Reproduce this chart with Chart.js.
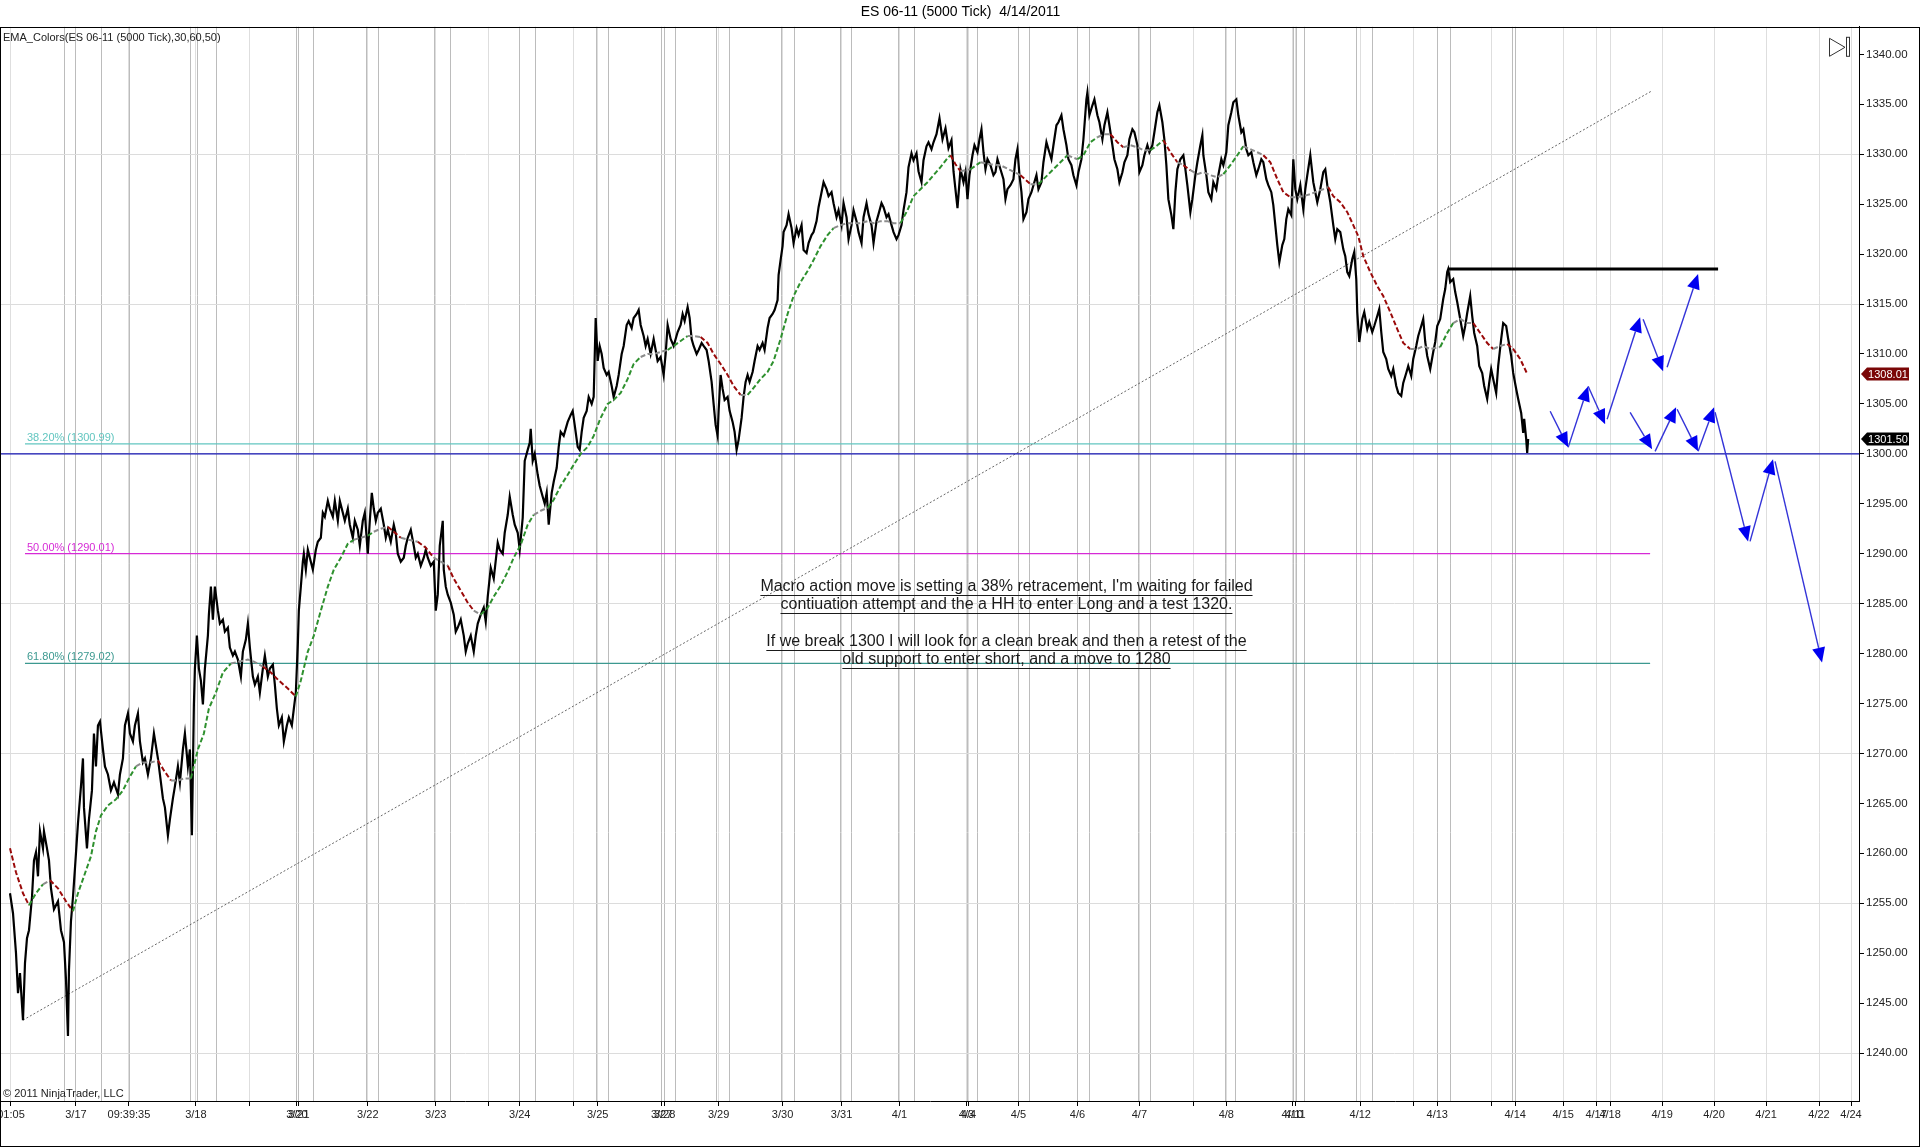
<!DOCTYPE html>
<html>
<head>
<meta charset="utf-8">
<title>ES 06-11 (5000 Tick) 4/14/2011</title>
<script src="https://cdn.jsdelivr.net/npm/chart.js@4.4.0/dist/chart.umd.min.js"></script>
<style>
  html, body { margin: 0; padding: 0; background: #fff; }
  #wrap { width: 1920px; height: 1147px; }
</style>
</head>
<body>
<div id="wrap"><canvas id="esChart" width="1920" height="1147"></canvas></div>
<script>
// ES 06-11, 5000 tick bars (x = bar number on the tick axis)
const titleText = 'ES 06-11 (5000 Tick)  4/14/2011';
const indicatorText = 'EMA_Colors(ES 06-11 (5000 Tick),30,60,50)';
const copyrightText = '\u00a9 2011 NinjaTrader, LLC';

const lastBar = 1859;
const priceMin = 1235.2;
const priceMax = 1342.76;

const tickBars = [10, 75, 128, 195, 249, 296, 298, 367, 435, 488, 519, 573, 597, 661, 664, 718, 782, 841, 899,
  966, 968, 1018, 1077, 1139, 1193, 1226, 1292, 1295, 1360, 1413, 1437, 1491, 1515, 1563, 1596, 1610, 1662,
  1714, 1766, 1819, 1851];
const tickLabels = ['01:05', '3/17', '09:39:35', '3/18', '', '3/20', '3/21', '3/22', '3/23', '', '3/24', '', '3/25',
  '3/27', '3/28', '3/29', '3/30', '3/31', '4/1', '4/3', '4/4', '4/5', '4/6', '4/7', '', '4/8', '4/10', '4/11',
  '4/12', '', '4/13', '', '4/14', '4/15', '4/17', '4/18', '4/19', '4/20', '4/21', '4/22', '4/24'];
const sessionBars = [64, 75, 101, 129, 190, 197, 216, 296, 298, 313, 366, 378, 434, 450, 519, 535, 596, 608,
  661, 664, 675, 716, 729, 781, 794, 840, 851, 898, 914, 967, 977, 1018, 1029, 1077, 1089, 1138, 1150, 1225,
  1235, 1293, 1296, 1304, 1356, 1372, 1437, 1450, 1512, 1515];

const yTicks = [1240, 1245, 1250, 1255, 1260, 1265, 1270, 1275, 1280, 1285, 1290, 1295, 1300, 1305, 1310,
  1315, 1320, 1325, 1330, 1335, 1340];
const yGridValues = [1240, 1255, 1270, 1285, 1300, 1315, 1330];

const priceBars = [
  9, 12, 15, 17, 19, 22, 24, 26, 28, 31, 33, 35, 37, 39, 42, 43, 46, 48, 50, 53,
  57, 60, 63, 65, 67, 68, 70, 72, 74, 77, 80, 82, 83, 86, 88, 91, 93, 95, 97, 99,
  102, 104, 107, 110, 113, 117, 119, 122, 124, 127, 129, 132, 134, 137, 139, 142, 144, 147, 150, 153,
  157, 159, 162, 164, 167, 169, 172, 174, 177, 179, 182, 184, 187, 189, 191, 193, 194, 196, 198, 200,
  202, 204, 207, 208, 210, 212, 214, 217, 219, 222, 224, 227, 229, 232, 234, 237, 240, 242, 245, 247,
  249, 252, 254, 257, 259, 262, 264, 267, 269, 272, 274, 276, 278, 281, 283, 286, 288, 291, 293, 295,
  297, 298, 300, 302, 303, 305, 307, 310, 312, 315, 317, 320, 322, 324, 327, 329, 332, 334, 337, 339,
  342, 344, 347, 349, 352, 354, 357, 359, 362, 364, 367, 369, 371, 373, 375, 377, 380, 383, 385, 387,
  390, 393, 395, 397, 400, 403, 405, 407, 410, 413, 415, 417, 420, 423, 425, 427, 430, 433, 435, 437,
  439, 442, 443, 445, 447, 450, 453, 455, 457, 460, 463, 465, 467, 470, 473, 475, 477, 480,
  483, 485, 487, 490, 493, 495, 497, 499, 502, 504, 507, 509, 512, 514, 517, 519, 522, 524, 527, 529,
  530, 532, 534, 537, 539, 542, 544, 546, 548, 551, 553, 556, 558, 560, 563, 565, 567, 570, 572, 574,
  577, 579, 581, 583, 586, 588, 591, 593, 595, 597, 599, 601, 603, 606, 608, 611, 613, 616, 618, 621,
  623, 626, 628, 631, 633, 636, 638, 640, 643, 645, 647, 650, 653, 655, 657, 660, 663, 665, 667, 670,
  673, 675, 677, 680, 682, 684, 687, 689, 691, 693, 696, 698, 701, 703, 706, 708, 711, 713, 715, 717,
  718, 720, 722, 724, 727, 729, 732, 734, 736, 738, 741, 743, 745, 747, 749, 752, 754, 757, 759, 762,
  764, 767, 769, 772, 774, 777, 778, 780, 782, 783, 786, 788, 791, 793, 796, 798, 801, 803, 806, 808,
  811, 813, 816, 818, 821, 823, 826, 828, 831, 833, 836, 838, 841, 843, 846, 848, 851, 853, 856, 858,
  861, 863, 866, 868, 871, 873, 876, 878, 881, 883, 886, 888, 891, 893, 896, 898, 901, 903, 906, 908,
  911, 913, 916, 918, 921, 923, 926, 928, 931, 933,
  936, 939, 942, 945, 948, 951, 953, 957,
  960, 963, 965, 967, 969, 972, 974, 977, 979, 981, 983, 985, 987, 990, 993, 995, 997, 1000, 1003, 1005,
  1007, 1010, 1013, 1015, 1017, 1019, 1021, 1023, 1026, 1028, 1031, 1033, 1036, 1038, 1041, 1043, 1046, 1048, 1051, 1053,
  1056, 1058, 1061, 1063, 1066, 1068, 1071, 1073, 1076, 1078, 1081, 1083, 1086, 1087, 1089, 1092, 1094, 1097, 1099, 1102,
  1104, 1107, 1109, 1112, 1114, 1117, 1119, 1122, 1124, 1127, 1129, 1132, 1134, 1137, 1139, 1142, 1144, 1147, 1149, 1152,
  1154, 1157, 1159, 1162, 1164, 1166, 1168, 1171, 1173, 1175, 1177, 1180, 1183, 1185, 1187, 1190, 1192, 1195, 1197, 1200,
  1202, 1203, 1206, 1208, 1211, 1213, 1216, 1218, 1221, 1223, 1226, 1228, 1231, 1233, 1236, 1238, 1241, 1243, 1246, 1248,
  1251, 1253, 1256, 1258, 1261, 1263, 1266, 1268, 1271, 1273, 1275, 1277, 1279, 1282, 1284, 1286, 1288, 1291, 1293, 1295,
  1297, 1300, 1303, 1305, 1307, 1310, 1313, 1315, 1317, 1320, 1323, 1325, 1327, 1330, 1333, 1335, 1337, 1340, 1343, 1345,
  1347, 1349, 1352, 1354, 1356, 1357, 1359, 1362, 1364, 1367, 1369, 1372, 1374, 1377, 1379, 1381, 1383, 1386, 1388, 1391,
  1393, 1396, 1398, 1401, 1403, 1406, 1408, 1411, 1413, 1416, 1418, 1421, 1423, 1425, 1427, 1430, 1433, 1435, 1437, 1440,
  1443, 1445, 1447, 1448, 1450, 1453, 1455, 1457, 1460, 1463, 1465, 1467, 1470, 1472, 1474, 1477, 1479, 1482, 1484, 1487,
  1489, 1491, 1493, 1496, 1498, 1501, 1503, 1506, 1508, 1511, 1513, 1516, 1518, 1521, 1523, 1524, 1526, 1527, 1528
];
const priceClose = [
  1256, 1254, 1250, 1246, 1248, 1243.3, 1249, 1251.5, 1252.3, 1255.6, 1259.3, 1260.1, 1257.7, 1262.2, 1260.5, 1262.2, 1260.5, 1259.3, 1256.5, 1254.4,
  1255.2, 1252.3, 1251.1, 1247.4, 1241.7, 1248.3, 1253.2, 1255.6, 1258.5, 1263, 1266.7, 1269.5, 1264.6, 1260.5, 1263.4, 1266.3, 1272, 1268.7, 1272.8, 1273.2,
  1270.4, 1268.7, 1267.9, 1266.3, 1267.1, 1265.9, 1267.9, 1269.5, 1272.8, 1274, 1272, 1271.2, 1272.8, 1274, 1271.2, 1269.1, 1269.5, 1267.9, 1269.5, 1272,
  1269.5, 1267.9, 1265.5, 1264.6, 1261.8, 1263.4, 1265.5, 1266.7, 1268.7, 1267.1, 1270.4, 1272, 1268.7, 1270.4, 1261.8, 1274.9, 1278.5, 1281.8, 1278.5, 1277.3,
  1274.9, 1278.5, 1281.8, 1283.9, 1286.7, 1283.4, 1286.7, 1284.3, 1283, 1283.4, 1282.2, 1282.6, 1280.6, 1279.8, 1280.2, 1279.4, 1277.7, 1280.2, 1281.4, 1283,
  1280.6, 1277.7, 1276.9, 1277.7, 1276.1, 1278.5, 1279.8, 1277.7, 1278.5, 1278.9, 1276.9, 1274.5, 1272.8, 1273.6, 1271.2, 1272.8, 1273.6, 1272.8, 1274.5, 1276.1,
  1281, 1284.3, 1286.7, 1289.2, 1290, 1288.4, 1290.4, 1289.2, 1288.4, 1290.4, 1291.2, 1291.6, 1294.1, 1293.7, 1295.3, 1294.5, 1293.7, 1295.3, 1293.3, 1295.3,
  1294.1, 1293.3, 1294.5, 1292.9, 1291.6, 1293.3, 1292.4, 1290.8, 1293.3, 1294.1, 1290, 1293.3, 1296.1, 1294.5, 1293.3, 1294.1, 1294.5, 1292.9, 1291.6, 1292.4,
  1291.2, 1292.9, 1292, 1290, 1289.2, 1289.6, 1290.8, 1291.6, 1292.4, 1290.8, 1289.6, 1290, 1288.8, 1289.6, 1290.4, 1289.6, 1288.8, 1289.2, 1284.3, 1285.9,
  1290.8, 1293.3, 1288.4, 1286.7, 1285.9, 1285.1, 1283.9, 1282.2, 1282.6, 1283.4, 1281.8, 1280.2, 1281, 1281.8, 1280.2, 1281.8, 1283, 1283.9,
  1284.6, 1283.2, 1285.7, 1288.6, 1287.5, 1289.3, 1291.1, 1290.4, 1290, 1292.1, 1293.9, 1295.7, 1293.9, 1292.9, 1292.1, 1290.4, 1293.6, 1299.3, 1300.4, 1301.1,
  1302.5, 1299.3, 1300, 1297.9, 1296.8, 1295.7, 1295, 1296.1, 1292.9, 1296.1, 1297.2, 1298.6, 1300.7, 1302.2, 1301.8, 1302.5, 1303.2, 1303.9, 1304.3, 1302.9,
  1300.7, 1300.4, 1302.2, 1303.6, 1304.3, 1305.7, 1305, 1305.7, 1313.6, 1309.3, 1310.8, 1310, 1308.6, 1307.9, 1308.2, 1306.8, 1305.7, 1306.8, 1307.9, 1310,
  1310.8, 1312.9, 1313.3, 1312.6, 1313.6, 1314, 1314.4, 1312.9, 1311.8, 1310.8, 1311.5, 1310, 1311.5, 1310.4, 1309.3, 1309.7, 1307.9, 1310, 1312.9, 1311.5,
  1310.8, 1311.5, 1312.2, 1312.9, 1314, 1313.3, 1314.7, 1313.6, 1311.5, 1310.8, 1310, 1310.4, 1311.1, 1310.8, 1310.4, 1309.3, 1307.2, 1305, 1302.9, 1301.8,
  1304.3, 1307.9, 1306.5, 1305.4, 1305.7, 1304.3, 1303.2, 1302.2, 1300.4, 1301.4, 1303.6, 1305.7, 1307.2, 1307.9, 1307.2, 1308.2, 1309.3, 1310.8, 1310.4, 1311.1,
  1310.4, 1312.6, 1313.6, 1314, 1314.4, 1315.4, 1317.9, 1319.4, 1320.8, 1322.2, 1322.9, 1324, 1322.6, 1321.1, 1322.6, 1321.9, 1322.9, 1320.4, 1320.1, 1321.1,
  1321.9, 1322.2, 1323.3, 1324.7, 1326.2, 1327.2, 1326.5, 1325.8, 1326.2, 1325.1, 1323.7, 1324.4, 1322.9, 1325.1, 1323.7, 1321.5, 1322.9, 1324.4, 1323.3, 1322.2,
  1321.1, 1323.7, 1325.1, 1324, 1322.9, 1321.1, 1323.3, 1324, 1325.1, 1324.7, 1323.7, 1324, 1322.9, 1322.2, 1321.5, 1321.9, 1322.9, 1324.4, 1326.2, 1328.7,
  1330.1, 1329.4, 1330.1, 1328.3, 1327.2, 1329.4, 1330.8, 1331.2, 1330.5, 1331.2,
  1332.0, 1333.6, 1331.5, 1332.6, 1330.6, 1331.4, 1328.3, 1324.6,
  1328.5, 1327.2, 1328.2, 1325.5, 1327.9, 1329.9, 1330.9, 1330.2, 1331.5, 1332.5, 1330.2, 1328.5, 1329.5, 1328.9, 1327.9, 1328.2, 1329.5, 1328.5, 1327.5, 1325.5,
  1326.5, 1326.9, 1327.5, 1329.5, 1330.5, 1327.9, 1326.2, 1323.5, 1324.2, 1325.5, 1326.2, 1326.9, 1327.9, 1326.5, 1327.2, 1329.2, 1331.2, 1330.5, 1329.5, 1330.9,
  1332.9, 1333.2, 1333.9, 1332.5, 1330.9, 1329.5, 1328.9, 1327.9, 1326.9, 1328.2, 1329.5, 1331.5, 1335.5, 1336.2, 1333.9, 1334.9, 1335.5, 1333.9, 1333.2, 1331.5,
  1332.9, 1334.2, 1332.9, 1330.9, 1329.5, 1328.5, 1327.2, 1328.2, 1329.2, 1329.9, 1331.5, 1332.5, 1332.2, 1330.9, 1328.2, 1328.9, 1329.9, 1330.9, 1330.2, 1330.9,
  1332.2, 1334.2, 1334.9, 1333.2, 1331.5, 1328.9, 1325.5, 1323.9, 1322.5, 1326.2, 1328.5, 1329.5, 1329.9, 1328.5, 1326.9, 1324.2, 1325.5, 1327.9, 1329.2, 1330.9,
  1331.9, 1329.9, 1327.9, 1326.2, 1325.5, 1327.2, 1326.5, 1327.9, 1329.5, 1328.9, 1330.2, 1332.9, 1334.2, 1335.2, 1335.5, 1333.9, 1332.2, 1332.5, 1330.5, 1329.9,
  1330.2, 1329.2, 1327.9, 1328.5, 1329.5, 1329.2, 1327.5, 1326.9, 1326.2, 1324.9, 1322.9, 1320.9, 1319.2, 1320.9, 1321.5, 1323.5, 1324.5, 1323.9, 1329.5, 1326.5,
  1325.5, 1326.9, 1324.5, 1326.5, 1327.9, 1329.9, 1327.2, 1326.2, 1325.2, 1326.5, 1328.2, 1328.5, 1326.9, 1325.2, 1322.9, 1321.5, 1322.5, 1322.2, 1320.5, 1319.8,
  1318.2, 1317.8, 1319.5, 1320.2, 1317.5, 1314.2, 1311.2, 1313.5, 1314.2, 1312.5, 1313.2, 1312.2, 1312.8, 1313.8, 1314.5, 1312.2, 1310.2, 1309.5, 1308.5, 1307.8,
  1308.5, 1306.8, 1306.1, 1305.8, 1307.1, 1308.1, 1308.8, 1307.8, 1309.5, 1310.8, 1311.8, 1312.8, 1313.5, 1311.2, 1309.8, 1308.5, 1310.2, 1311.2, 1312.8, 1313.5,
  1315.5, 1316.5, 1318.2, 1318.5, 1317.2, 1317.5, 1316.2, 1315.2, 1313.5, 1311.8, 1312.8, 1314.1, 1315.8, 1313.8, 1312.1, 1310.8, 1308.8, 1308.1, 1306.8, 1305.5,
  1307.1, 1308.5, 1307.5, 1306.1, 1308.8, 1311.5, 1313.1, 1312.8, 1311.5, 1309.8, 1308.1, 1306.5, 1305.5, 1304.1, 1302.1, 1303.5, 1301.5, 1300.1, 1301.5
];

const emaBars = [
  9, 15, 22, 28, 35, 42, 49, 57, 65, 72, 77, 83, 90, 95, 100, 107, 115, 122, 128, 135,
  142, 150, 157, 163, 170, 177, 183, 190, 197, 203, 208, 215, 222, 230, 238, 247, 253, 262, 270, 278,
  287, 295, 300, 307, 313, 320, 327, 333, 340, 347, 353, 360, 367, 373, 380, 387, 393, 400, 408, 417,
  425, 433, 440, 447, 453, 460, 467, 473, 480,
  487, 493, 500, 507, 513, 520, 527, 533, 540, 547, 553, 560, 567, 573, 580, 587, 593, 600, 607, 613,
  620, 627, 633, 640, 647, 653, 660, 667, 673, 680, 687, 693, 700, 707, 713, 720, 727, 733, 740, 747,
  753, 760, 767, 773, 780, 787, 793, 800, 807, 813, 820, 827, 833, 840, 847, 853, 860, 867, 873, 880,
  887, 893, 900, 907, 913, 920, 927, 933, 940, 947, 950, 955, 960,
  970, 980, 990, 1000, 1010, 1020, 1030, 1038, 1047, 1057, 1067, 1077, 1083, 1090, 1097, 1103, 1110, 1117, 1123, 1130,
  1137, 1143, 1150, 1157, 1163, 1170, 1177, 1183, 1190, 1197, 1203, 1210, 1217, 1223, 1230, 1237, 1243, 1250, 1257, 1263,
  1270, 1277, 1283, 1290, 1297, 1303, 1310, 1317, 1323, 1328, 1333, 1340, 1347, 1353, 1358, 1363, 1370, 1377, 1383, 1390,
  1397, 1403, 1410, 1417, 1423, 1430, 1440,
  1447, 1453, 1460, 1467, 1473, 1480, 1487, 1493, 1500, 1507, 1513, 1520, 1527
];
const emaValues = [
  1260.5, 1258.1, 1256.0, 1254.8, 1256.0, 1256.9, 1257.3, 1256.5, 1255.2, 1254.2, 1256.0, 1257.7, 1259.7, 1262.2, 1263.8, 1264.8, 1265.4, 1266.3, 1267.5, 1268.7,
  1269.1, 1269.1, 1269.3, 1268.3, 1267.3, 1267.3, 1267.5, 1267.5, 1270.4, 1272.0, 1274.5, 1276.1, 1278.1, 1279.0, 1279.2, 1279.4, 1279.2, 1278.7, 1278.1, 1277.3,
  1276.5, 1275.7, 1277.3, 1280.2, 1281.8, 1284.3, 1286.7, 1288.4, 1289.6, 1291.0, 1291.4, 1291.6, 1291.8, 1292.2, 1292.5, 1292.7, 1292.2, 1291.6, 1291.4, 1291.2,
  1290.6, 1289.6, 1289.2, 1288.8, 1287.5, 1286.3, 1285.1, 1284.3, 1283.9,
  1284.6, 1285.7, 1286.8, 1288.2, 1289.6, 1290.9, 1292.9, 1293.9, 1294.3, 1294.6, 1295.4, 1296.8, 1297.9, 1298.9, 1300.0, 1300.7, 1301.8, 1303.6, 1305.0, 1305.4,
  1306.1, 1307.5, 1309.0, 1309.7, 1310.0, 1310.0, 1310.2, 1310.4, 1310.8, 1311.3, 1311.8, 1311.8, 1311.7, 1311.1, 1310.0, 1309.0, 1307.9, 1306.8, 1305.9, 1305.9,
  1306.6, 1307.5, 1308.2, 1309.3, 1311.5, 1314.0, 1315.8, 1317.2, 1318.3, 1319.4, 1320.8, 1321.9, 1322.6, 1322.9, 1323.1, 1323.1, 1323.1, 1323.3, 1323.1, 1323.3,
  1323.3, 1323.1, 1323.1, 1324.4, 1325.8, 1326.5, 1327.2, 1327.9, 1328.7, 1329.6, 1329.9, 1329.0, 1328.3,
  1328.5, 1329.2, 1329.0, 1328.9, 1328.4, 1327.9, 1327.0, 1327.0, 1327.9, 1328.9, 1329.9, 1329.5, 1329.9, 1331.2, 1331.7, 1332.0, 1332.0, 1331.2, 1330.7, 1330.9,
  1330.7, 1330.4, 1330.4, 1330.9, 1331.4, 1330.2, 1329.2, 1328.9, 1328.4, 1328.0, 1328.2, 1327.9, 1327.7, 1328.0, 1328.9, 1329.9, 1330.8, 1330.5, 1330.2, 1329.9,
  1329.2, 1327.5, 1326.2, 1325.7, 1325.7, 1325.8, 1326.0, 1326.3, 1326.5, 1326.7, 1325.8, 1325.2, 1324.2, 1322.9, 1321.8, 1319.8, 1318.2, 1316.8, 1315.8, 1314.2,
  1312.5, 1311.1, 1310.5, 1310.5, 1310.8, 1310.5, 1310.7,
  1312.1, 1313.1, 1313.5, 1313.1, 1313.1, 1312.1, 1311.1, 1310.5, 1310.8, 1311.0, 1310.5, 1309.5, 1308.01
];

// fibonacci retracement drawn on the chart
const fibNames = ['38.20%', '50.00%', '61.80%'];
const fibLevels = [1300.99, 1290.01, 1279.02];
const fibColors = ['#62c6c0', '#d62ad6', '#3c9990'];
const fibStartBar = 24;
const fibEndBar = 1650;

const supportLevel = 1300;
const resistanceLevel = 1318.5;
const resistanceBars = [1448, 1718];
const trendBars = [22, 1651];
const trendPrices = [1243.3, 1336.3];

// hand-drawn scenario arrows (from -> to)
const arrowFromBar = [1550, 1568, 1588, 1607, 1643, 1667, 1630, 1655, 1677, 1698, 1715, 1750, 1775];
const arrowFromPrice = [1304.26, 1300.65, 1306.77, 1303.46, 1313.48, 1308.67, 1304.16, 1300.25, 1304.46, 1300.25, 1304.16, 1291.23, 1299.25];
const arrowToBar = [1568, 1588, 1605, 1640, 1663, 1698, 1652, 1676, 1698, 1714, 1748, 1773, 1822];
const arrowToPrice = [1300.65, 1306.77, 1302.96, 1313.68, 1308.27, 1318.0, 1300.45, 1304.66, 1300.25, 1304.66, 1291.23, 1299.45, 1279.1];

const noteLines = [
  'Macro action move is setting a 38% retracement, I\'m waiting for failed',
  'contiuation attempt and the a HH to enter Long and a test 1320.',
  '',
  'If we break 1300 I will look for a clean break and then a retest of the',
  'old support to enter short, and a move to 1280'
];
const noteBar = 1006;
const notePrice = 1286.7;

const FONT = '"Liberation Sans", Arial, sans-serif';

function pairs(xs, ys) {
  return xs.map((x, i) => ({ x: x, y: ys[i] }));
}

function emaColor(ctx) {
  const slope = (ctx.p1.parsed.y - ctx.p0.parsed.y) / (ctx.p1.parsed.x - ctx.p0.parsed.x);
  if (slope > 0.06) return '#2e902e';
  if (slope < -0.06) return '#9a0a0a';
  return '#8c8c8c';
}

const datasets = [
  {
    label: 'EMA', data: pairs(emaBars, emaValues), order: 0,
    borderColor: '#8c8c8c', borderWidth: 2, borderDash: [5, 2.5], pointRadius: 0,
    segment: { borderColor: emaColor }
  },
  {
    label: 'ES 06-11', data: pairs(priceBars, priceClose), order: 1,
    borderColor: '#000', borderWidth: 2.2, pointRadius: 0
  },
  {
    label: 'Support', data: pairs([0, lastBar], [supportLevel, supportLevel]), order: 3,
    borderColor: '#1616b4', borderWidth: 1.3, pointRadius: 0
  },
  {
    label: 'Resistance', data: pairs(resistanceBars, [resistanceLevel, resistanceLevel]), order: 2,
    borderColor: '#000', borderWidth: 3, pointRadius: 0
  },
  {
    label: 'Trend', data: pairs(trendBars, trendPrices), order: 3,
    borderColor: '#666', borderWidth: 1, borderDash: [2, 2], pointRadius: 0
  }
];
fibLevels.forEach((lvl, i) => {
  datasets.push({
    label: fibNames[i], data: pairs([fibStartBar, fibEndBar], [lvl, lvl]), order: 3,
    borderColor: fibColors[i], borderWidth: 1.2, pointRadius: 0
  });
});

const overlayPlugin = {
  id: 'overlay',
  afterDatasetsDraw(chart) {
    const ctx = chart.ctx;
    const x = chart.scales.x;
    const y = chart.scales.y;
    const area = chart.chartArea;

    ctx.save();
    ctx.beginPath();
    ctx.rect(area.left, area.top, area.right - area.left, area.bottom - area.top);
    ctx.clip();

    // fib labels
    ctx.font = '11px ' + FONT;
    ctx.textBaseline = 'alphabetic';
    ctx.textAlign = 'left';
    fibLevels.forEach((lvl, i) => {
      ctx.fillStyle = fibColors[i];
      ctx.fillText(fibNames[i] + ' (' + lvl.toFixed(2) + ')', x.getPixelForValue(fibStartBar) + 2, y.getPixelForValue(lvl) - 3);
    });

    // arrows
    for (let i = 0; i < arrowFromBar.length; i++) {
      const x0 = x.getPixelForValue(arrowFromBar[i]);
      const y0 = y.getPixelForValue(arrowFromPrice[i]);
      const x1 = x.getPixelForValue(arrowToBar[i]);
      const y1 = y.getPixelForValue(arrowToPrice[i]);
      const len = Math.hypot(x1 - x0, y1 - y0);
      const ux = (x1 - x0) / len, uy = (y1 - y0) / len;
      const head = 15, half = 6.5;
      const bx = x1 - ux * head, by = y1 - uy * head;
      ctx.strokeStyle = '#3434d8';
      ctx.lineWidth = 1.4;
      ctx.beginPath();
      ctx.moveTo(x0, y0);
      ctx.lineTo(bx, by);
      ctx.stroke();
      ctx.fillStyle = '#0000f0';
      ctx.beginPath();
      ctx.moveTo(x1, y1);
      ctx.lineTo(bx - uy * half, by + ux * half);
      ctx.lineTo(bx + uy * half, by - ux * half);
      ctx.closePath();
      ctx.fill();
    }

    // note text, underlined
    ctx.font = '16px ' + FONT;
    ctx.fillStyle = '#1a1a1a';
    ctx.strokeStyle = '#1a1a1a';
    ctx.lineWidth = 1;
    ctx.textAlign = 'center';
    ctx.textBaseline = 'middle';
    const cx = x.getPixelForValue(noteBar);
    const cy = y.getPixelForValue(notePrice);
    noteLines.forEach((line, i) => {
      if (!line) return;
      const ly = cy + i * 18.3;
      ctx.fillText(line, cx, ly);
      const w = ctx.measureText(line).width;
      ctx.beginPath();
      ctx.moveTo(cx - w / 2, Math.round(ly + 8) + 0.5);
      ctx.lineTo(cx + w / 2, Math.round(ly + 8) + 0.5);
      ctx.stroke();
    });

    // corner texts
    ctx.textAlign = 'left';
    ctx.fillStyle = '#222';
    ctx.font = '11px ' + FONT;
    ctx.fillText(indicatorText, area.left + 2, area.top + 11);
    ctx.font = '11px ' + FONT;
    ctx.fillText(copyrightText, area.left + 2, area.bottom - 7);

    // "go to end" glyph
    ctx.strokeStyle = '#333';
    ctx.lineWidth = 1;
    ctx.beginPath();
    ctx.moveTo(area.right - 29.5, area.top + 11.5);
    ctx.lineTo(area.right - 29.5, area.top + 29.5);
    ctx.lineTo(area.right - 14, area.top + 20.5);
    ctx.closePath();
    ctx.stroke();
    ctx.strokeRect(area.right - 12.5, area.top + 10.5, 3, 19);
    ctx.restore();

    // price markers on the axis
    ctx.save();
    const tags = [[emaValues[emaValues.length - 1], '#7a0606'], [priceClose[priceClose.length - 1], '#000']];
    ctx.font = '11px ' + FONT;
    ctx.textAlign = 'center';
    ctx.textBaseline = 'middle';
    tags.forEach(([v, col]) => {
      const py = Math.round(y.getPixelForValue(v));
      const tx = area.right + 2;
      ctx.fillStyle = col;
      ctx.beginPath();
      ctx.moveTo(tx, py);
      ctx.lineTo(tx + 6, py - 6.5);
      ctx.lineTo(tx + 48, py - 6.5);
      ctx.lineTo(tx + 48, py + 6.5);
      ctx.lineTo(tx + 6, py + 6.5);
      ctx.closePath();
      ctx.fill();
      ctx.fillStyle = '#fff';
      ctx.fillText(v.toFixed(2), tx + 27, py + 0.5);
    });
    ctx.restore();
  },
  afterDraw(chart) {
    const ctx = chart.ctx;
    ctx.save();
    ctx.strokeStyle = '#000';
    ctx.lineWidth = 1;
    ctx.strokeRect(0.5, Math.round(chart.chartArea.top) + 0.5, chart.width - 1, chart.height - Math.round(chart.chartArea.top) - 1);
    ctx.restore();
  }
};

new Chart(document.getElementById('esChart'), {
  type: 'line',
  data: { datasets: datasets },
  options: {
    responsive: false,
    animation: false,
    devicePixelRatio: 1,
    layout: { padding: { left: 1, right: 0, top: 0, bottom: 0 } },
    scales: {
      x: {
        type: 'linear', position: 'bottom', min: 0, max: lastBar,
        afterBuildTicks: (axis) => { axis.ticks = tickBars.map(v => ({ value: v })); },
        afterFit: (s) => { s.height = 46; s.paddingLeft = 0; s.paddingRight = 0; },
        ticks: {
          autoSkip: false, maxRotation: 0, minRotation: 0, padding: 2,
          color: '#222', font: { family: FONT, size: 11 },
          callback: (v, i) => tickLabels[i]
        },
        grid: { color: '#dedede', tickColor: '#000', tickLength: 5, lineWidth: 1 },
        border: { color: '#000', width: 1 }
      },
      sessions: {
        type: 'linear', position: 'bottom', min: 0, max: lastBar,
        afterBuildTicks: (axis) => { axis.ticks = sessionBars.map(v => ({ value: v })); },
        afterFit: (s) => { s.height = 0; s.paddingLeft = 0; s.paddingRight = 0; },
        ticks: { display: false },
        grid: { color: '#bcbcbc', drawTicks: false, lineWidth: 1 },
        border: { display: false }
      },
      y: {
        type: 'linear', position: 'right', min: priceMin, max: priceMax,
        afterBuildTicks: (axis) => { axis.ticks = yTicks.map(v => ({ value: v })); },
        afterFit: (s) => { s.width = 61; s.paddingTop = 0; s.paddingBottom = 0; },
        ticks: {
          padding: 2, color: '#222', font: { family: FONT, size: 11.5 },
          callback: (v) => Number(v).toFixed(2)
        },
        grid: {
          color: (c) => (c.tick && yGridValues.includes(c.tick.value)) ? '#dcdcdc' : 'rgba(0,0,0,0)',
          tickColor: '#000', tickLength: 5
        },
        border: { color: '#000', width: 1 }
      }
    },
    plugins: {
      legend: { display: false },
      tooltip: { enabled: false },
      title: {
        display: true, text: titleText, color: '#000',
        font: { family: FONT, size: 14, weight: 'normal' },
        padding: { top: 4, bottom: 6 }
      }
    }
  },
  plugins: [overlayPlugin]
});
</script>
</body>
</html>
